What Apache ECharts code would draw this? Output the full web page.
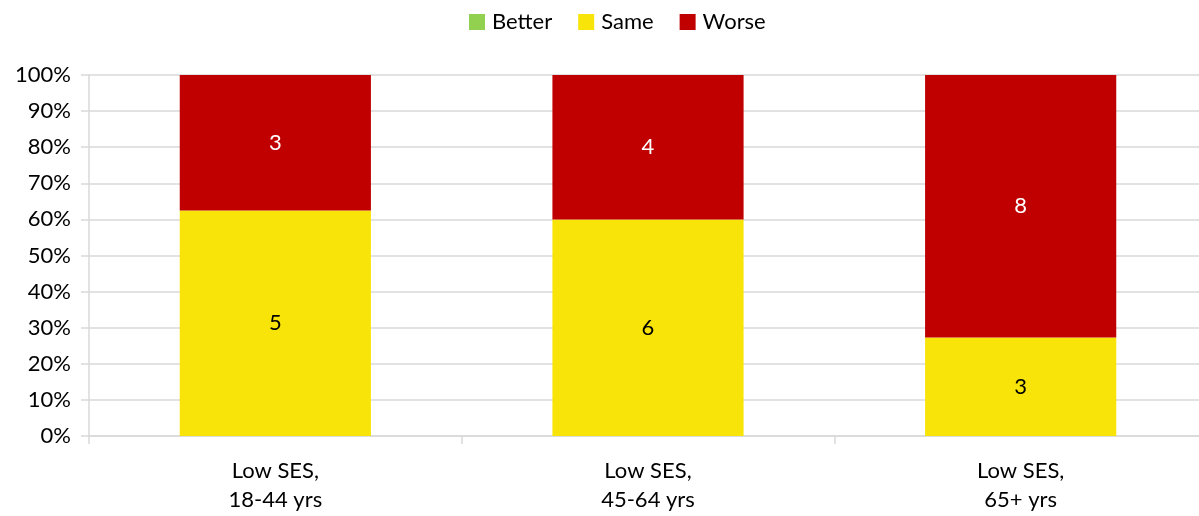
<!DOCTYPE html>
<html>
<head>
<meta charset="utf-8">
<script src="https://cdn.jsdelivr.net/npm/echarts@6/dist/echarts.min.js"></script>
<style>
  html, body { margin: 0; padding: 0; background: #fff; overflow: hidden; }
  /* canvas is slightly wider than the page: the plot area runs past the right edge */
  #chart { width: 1207px; height: 516px; }
</style>
</head>
<body>
<div id="chart"></div>
<script>
// Respondent counts per age group (low SES)
const categories = ['Low SES,\n18-44 yrs', 'Low SES,\n45-64 yrs', 'Low SES,\n65+ yrs'];
const betterCounts = [0, 0, 0];
const sameCounts = [5, 6, 3];
const worseCounts = [3, 4, 8];
const yTicks = [0, 10, 20, 30, 40, 50, 60, 70, 80, 90, 100];

const totals = categories.map((_, i) => betterCounts[i] + sameCounts[i] + worseCounts[i]);
const toShare = (counts) => counts.map((c, i) => ({ value: c / totals[i] * 100, count: c }));

const FONT = 'Lato, "Open Sans", sans-serif';
const FS = 22;

function series(name, counts, color, labelColor) {
  return {
    name: name,
    type: 'bar',
    stack: 'total',
    barWidth: '51.3%',
    data: toShare(counts),
    itemStyle: { color: color },
    label: {
      show: true,
      position: 'inside',
      color: labelColor,
      fontFamily: FONT,
      fontSize: FS,
      formatter: (p) => (p.data.count > 0 ? String(p.data.count) : '')
    }
  };
}

const chart = echarts.init(document.getElementById('chart'), null, { renderer: 'canvas' });
chart.setOption({
  animation: false,
  legend: {
    top: 6,
    left: 464,
    itemWidth: 16,
    itemHeight: 16,
    itemGap: 26,
    icon: 'rect',
    textStyle: { fontFamily: FONT, fontSize: FS, color: '#000', padding: [0, 0, 0, 2] },
    data: ['Better', 'Same', 'Worse']
  },
  grid: { left: 89, right: 0, top: 75, bottom: 80, containLabel: false },
  xAxis: {
    type: 'category',
    data: categories,
    axisLine: { lineStyle: { color: '#d9d9d9', width: 1.5 } },
    axisTick: { show: true, length: 8, alignWithLabel: false, lineStyle: { color: '#d9d9d9', width: 1.5 } },
    axisLabel: { color: '#000', fontFamily: FONT, fontSize: FS, lineHeight: 29, margin: 20 }
  },
  yAxis: {
    type: 'value',
    min: 0,
    max: 100,
    interval: 10,
    axisLine: { show: true, lineStyle: { color: '#d9d9d9', width: 1.5 } },
    axisTick: { show: true, length: 8, lineStyle: { color: '#d9d9d9', width: 1.5 } },
    splitLine: { lineStyle: { color: '#d9d9d9', width: 1.5 } },
    axisLabel: {
      color: '#000', fontFamily: FONT, fontSize: FS, margin: 18,
      formatter: (v) => (yTicks.includes(v) ? v + '%' : '')
    }
  },
  series: [
    series('Better', betterCounts, '#92d050', '#000'),
    series('Same', sameCounts, '#f8e408', '#000'),
    series('Worse', worseCounts, '#c00000', '#fff')
  ]
});
</script>
</body>
</html>
